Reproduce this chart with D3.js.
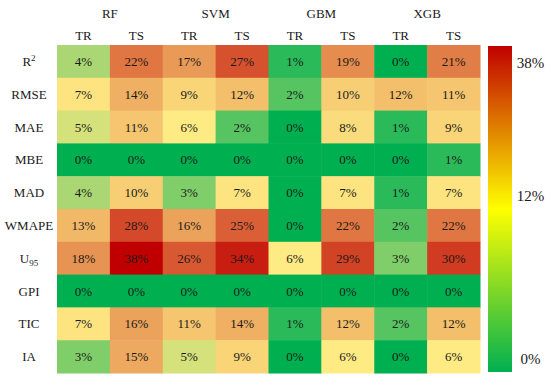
<!DOCTYPE html>
<html>
<head>
<meta charset="utf-8">
<script src="https://cdn.jsdelivr.net/npm/d3@7"></script>
<style>
  body { margin: 0; background: #fff; }
  text { font-family: "Liberation Serif", "Times New Roman", serif; fill: #1a1a1a; }
</style>
</head>
<body>
<div id="chart"></div>
<script>
// data
const models = ["RF", "SVM", "GBM", "XGB"]
const splits = ["TR", "TS"]
const metrics = ["R2", "RMSE", "MAE", "MBE", "MAD", "WMAPE", "U95", "GPI", "TIC", "IA"]
const values = [
  [4, 22, 17, 27, 1, 19, 0, 21],
  [7, 14, 9, 12, 2, 10, 12, 11],
  [5, 11, 6, 2, 0, 8, 1, 9],
  [0, 0, 0, 0, 0, 0, 0, 1],
  [4, 10, 3, 7, 0, 7, 1, 7],
  [13, 28, 16, 25, 0, 22, 2, 22],
  [18, 38, 26, 34, 6, 29, 3, 30],
  [0, 0, 0, 0, 0, 0, 0, 0],
  [7, 16, 11, 14, 1, 12, 2, 12],
  [3, 15, 5, 9, 0, 6, 0, 6]
]
const legendTicks = [0, 12, 38]

const width = 550, height = 379
const grid = {left: 57, right: 480, top: 45, bottom: 373}

const columns = []
models.forEach(m => splits.forEach(s => columns.push(m + "|" + s)))

const cells = []
values.forEach((row, r) => row.forEach((v, c) => cells.push({row: metrics[r], col: columns[c], value: v})))

const x = d3.scaleBand().domain(columns).range([grid.left, grid.right])
const y = d3.scaleBand().domain(metrics).range([grid.top, grid.bottom])
const color = d3.scaleLinear().domain([0, 6, 38]).range(["#00b050", "#ffeb84", "#c00000"])

const svg = d3.select("#chart").append("svg")
    .attr("width", width)
    .attr("height", height)

// cells
svg.append("g").selectAll("rect")
    .data(cells)
    .join("rect")
    .attr("x", d => x(d.col))
    .attr("y", d => y(d.row))
    .attr("width", x.bandwidth() + 0.5)
    .attr("height", y.bandwidth() + 0.5)
    .attr("fill", d => color(d.value))

svg.append("g").selectAll("text")
    .data(cells)
    .join("text")
    .attr("x", d => x(d.col) + x.bandwidth() / 2)
    .attr("y", d => y(d.row) + y.bandwidth() / 2 + 4.5)
    .attr("text-anchor", "middle")
    .attr("font-size", 13)
    .text(d => d.value + "%")

// column headers
svg.append("g").selectAll("text")
    .data(columns)
    .join("text")
    .attr("x", d => x(d) + x.bandwidth() / 2)
    .attr("y", 39.5)
    .attr("text-anchor", "middle")
    .attr("font-size", 13)
    .text(d => d.split("|")[1])

svg.append("g").selectAll("text")
    .data(models)
    .join("text")
    .attr("x", m => x(m + "|TR") + x.bandwidth())
    .attr("y", 17.5)
    .attr("text-anchor", "middle")
    .attr("font-size", 13)
    .text(m => m)

// row labels, with R² and U₉₅
const rowLabels = svg.append("g").selectAll("text")
    .data(metrics)
    .join("text")
    .attr("x", 29)
    .attr("y", d => y(d) + y.bandwidth() / 2 + 4.5)
    .attr("text-anchor", "middle")
    .attr("font-size", 13)

rowLabels.each(function(d) {
    const t = d3.select(this)
    if (d === "R2") {
        t.append("tspan").text("R")
        t.append("tspan").attr("dy", -5).attr("font-size", 9).text("2")
    } else if (d === "U95") {
        t.append("tspan").text("U")
        t.append("tspan").attr("dy", 3).attr("font-size", 9).text("95")
    } else {
        t.text(d)
    }
})

// colour bar
const bar = {x: 488, w: 24, top: 46, bottom: 372}
const grad = svg.append("defs").append("linearGradient")
    .attr("id", "bar")
    .attr("x1", 0).attr("y1", 1).attr("x2", 0).attr("y2", 0)
grad.selectAll("stop")
    .data(["#00b050", "#ffff00", "#c00000"])
    .join("stop")
    .attr("offset", (d, i) => i / 2)
    .attr("stop-color", d => d)

svg.append("rect")
    .attr("x", bar.x)
    .attr("y", bar.top)
    .attr("width", bar.w)
    .attr("height", bar.bottom - bar.top)
    .attr("fill", "url(#bar)")

const legendY = d3.scaleLinear().domain([0, 12, 38]).range([358.5, 196, 63])
svg.append("g").selectAll("text")
    .data(legendTicks)
    .join("text")
    .attr("x", 530.5)
    .attr("y", d => legendY(d) + 5)
    .attr("text-anchor", "middle")
    .attr("font-size", 15)
    .text(d => d + "%")
</script>
</body>
</html>
